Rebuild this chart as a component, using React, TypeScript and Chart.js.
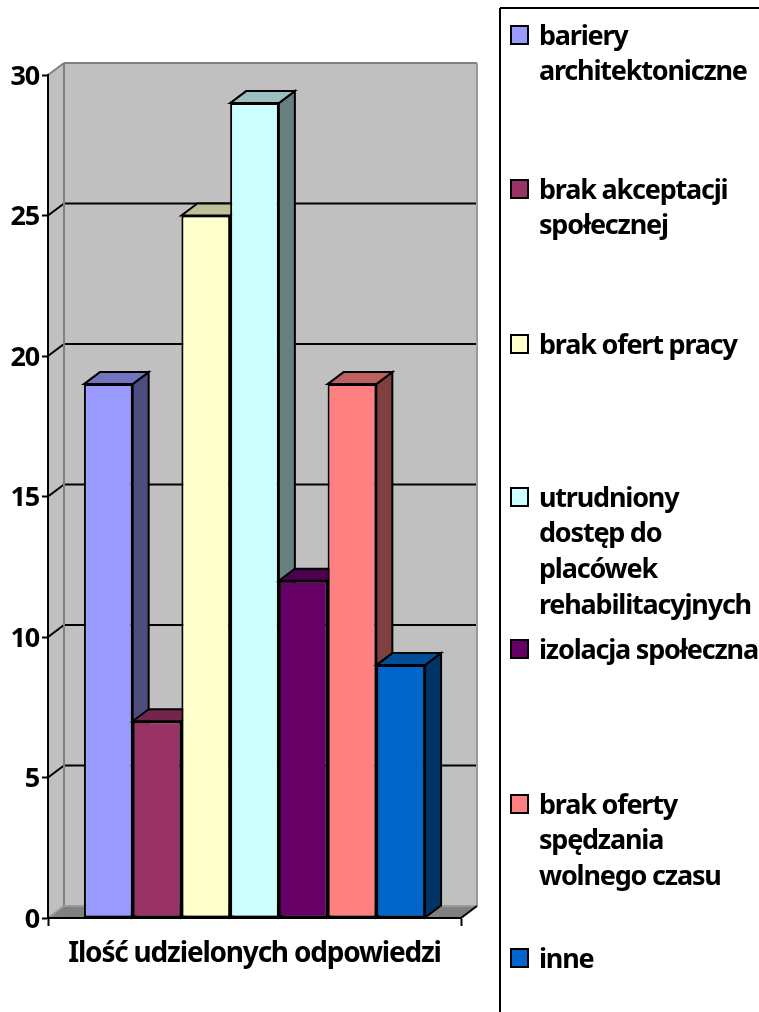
import React, { useEffect, useRef } from "react";
import { Chart, registerables } from "chart.js";

Chart.register(...registerables);

const categories = ["Ilość udzielonych odpowiedzi"];
const seriesNames = [
  "bariery architektoniczne",
  "brak akceptacji społecznej",
  "brak ofert pracy",
  "utrudniony dostęp do placówek rehabilitacyjnych",
  "izolacja społeczna",
  "brak oferty spędzania wolnego czasu",
  "inne",
];
const seriesValues = [19, 7, 25, 29, 12, 19, 9];
const seriesColors = ["#9999FF", "#993366", "#FFFFCC", "#CCFFFF", "#660066", "#FF8080", "#0066CC"];
const legendLines = [
  ["bariery", "architektoniczne"],
  ["brak akceptacji", "społecznej"],
  ["brak ofert pracy"],
  ["utrudniony", "dostęp do", "placówek", "rehabilitacyjnych"],
  ["izolacja społeczna"],
  ["brak oferty", "spędzania", "wolnego czasu"],
  ["inne"],
];
const legendCenters = [35, 189, 344, 497, 649, 804, 958];

const DX = 16;
const DY = -12;
const FONT_FAMILY = '"Noto Sans", sans-serif';
const WALL = "#C0C0C0";
const FLOOR = "#808080";
const EDGE = "#808080";

function shade(hex: string, f: number) {
  const n = parseInt(hex.slice(1), 16);
  const r = Math.round(((n >> 16) & 255) * f);
  const g = Math.round(((n >> 8) & 255) * f);
  const b = Math.round((n & 255) * f);
  return `rgb(${r},${g},${b})`;
}

function poly(ctx: CanvasRenderingContext2D, pts: number[][], fill: string | null, stroke: string | null, lw = 2) {
  ctx.beginPath();
  pts.forEach((p, i) => (i ? ctx.lineTo(p[0], p[1]) : ctx.moveTo(p[0], p[1])));
  ctx.closePath();
  if (fill) {
    ctx.fillStyle = fill;
    ctx.fill();
  }
  if (stroke) {
    ctx.strokeStyle = stroke;
    ctx.lineWidth = lw;
    ctx.lineJoin = "miter";
    ctx.stroke();
  }
}

function line(ctx: CanvasRenderingContext2D, x1: number, y1: number, x2: number, y2: number, color: string, lw = 2) {
  ctx.beginPath();
  ctx.moveTo(x1, y1);
  ctx.lineTo(x2, y2);
  ctx.strokeStyle = color;
  ctx.lineWidth = lw;
  ctx.stroke();
}

const threeD = {
  id: "threeD",
  beforeDraw(chart: any) {
    const ctx = chart.ctx;
    (ctx as any).letterSpacing = "-1.2px";
    const { left, right, top, bottom } = chart.chartArea;
    const y = chart.scales.y;
    poly(ctx, [[left + DX, top + DY], [right + DX, top + DY], [right + DX, bottom + DY], [left + DX, bottom + DY]], WALL, null);
    poly(ctx, [[left, top], [left + DX, top + DY], [left + DX, bottom + DY], [left, bottom]], WALL, null);
    y.ticks.forEach((t: any) => {
      const py = y.getPixelForValue(t.value);
      if (t.value === 0 || t.value === y.max) return;
      line(ctx, left, py, left + DX, py + DY, "#000");
      line(ctx, left + DX, py + DY, right + DX, py + DY, "#000");
    });
    poly(ctx, [[left, bottom], [left + DX, bottom + DY], [right + DX, bottom + DY], [right, bottom]], FLOOR, null);
    line(ctx, left, top, left + DX, top + DY, EDGE);
    line(ctx, left + DX, top + DY, right + DX, top + DY, EDGE);
    line(ctx, left + DX, top + DY, left + DX, bottom + DY, EDGE);
    line(ctx, right + DX, top + DY, right + DX, bottom + DY, "#999");
    line(ctx, left, bottom, left + DX, bottom + DY, "#999");
    line(ctx, left + DX, bottom + DY, right + DX, bottom + DY, "#999");
    line(ctx, right, bottom, right + DX, bottom + DY, "#000");
  },
  beforeDatasetsDraw(chart: any) {
    const ctx = chart.ctx;
    seriesValues.forEach((_, i) => {
      const bar = chart.getDatasetMeta(i).data[0];
      const half = bar.width / 2;
      const l = bar.x - half;
      const r = bar.x + half;
      const t = bar.y;
      const b = bar.base;
      const c = seriesColors[i];
      poly(ctx, [[r, t], [r + DX, t + DY], [r + DX, b + DY], [r, b]], shade(c, 0.5), "#000");
      poly(ctx, [[l, t], [l + DX, t + DY], [r + DX, t + DY], [r, t]], shade(c, 0.75), "#000");
      bar.draw(ctx, chart.chartArea);
    });
    return false;
  },
  afterDraw(chart: any) {
    const ctx = chart.ctx;
    ctx.save();
    line(ctx, 500, 1012, 500, 8, "#000");
    line(ctx, 500, 8, 759, 8, "#000");
    ctx.font = `700 27px ${FONT_FAMILY}`;
    ctx.textAlign = "left";
    ctx.textBaseline = "middle";
    const step = 35.8;
    legendLines.forEach((lines, i) => {
      const cy = legendCenters[i];
      poly(ctx, [[511, cy - 9], [528, cy - 9], [528, cy + 9], [511, cy + 9]], seriesColors[i], "#000");
      ctx.fillStyle = "#000";
      lines.forEach((s, j) => ctx.fillText(s, 539, cy + 2 + j * step));
    });
    ctx.restore();
  },
};

export default function App() {
  const ref = useRef<HTMLCanvasElement>(null);
  useEffect(() => {
    const chart = new Chart(ref.current!, {
      type: "bar",
      plugins: [threeD as any],
      data: {
        labels: categories,
        datasets: seriesNames.map((name, i) => ({
          label: name,
          data: [seriesValues[i]],
          backgroundColor: seriesColors[i],
          borderColor: "#000",
          borderWidth: 2,
          borderSkipped: false,
        })),
      },
      options: {
        animation: false,
        responsive: false,
        categoryPercentage: 0.826,
        barPercentage: 1,
        layout: { padding: { left: 0, top: 75, right: 298, bottom: 0 } },
        plugins: { legend: { display: false }, title: { display: false }, tooltip: { enabled: false } },
        scales: {
          x: {
            afterFit: (s: any) => { s.height = 94; },
            grid: { drawOnChartArea: false, drawTicks: true, tickLength: 8, tickColor: "#000", tickWidth: 2, offset: true },
            border: { color: "#000", width: 2 },
            ticks: { color: "#000", font: { family: FONT_FAMILY, size: 28, weight: "700" }, padding: 11, maxRotation: 0, autoSkip: false },
          },
          y: {
            min: 0,
            max: 30,
            afterFit: (s: any) => { s.width = 48; },
            grid: { drawOnChartArea: false, drawTicks: true, tickLength: 6, tickColor: "#000", tickWidth: 2 },
            border: { color: "#000", width: 2 },
            ticks: { stepSize: 5, color: "#000", font: { family: FONT_FAMILY, size: 27, weight: "700" }, padding: 3, labelOffset: 2 },
          },
        },
      } as any,
    });
    return () => chart.destroy();
  }, []);
  return (
    <canvas
      ref={ref}
      width={759}
      height={1012}
      style={{ position: "absolute", left: 0, top: 0, display: "block" }}
    />
  );
}
